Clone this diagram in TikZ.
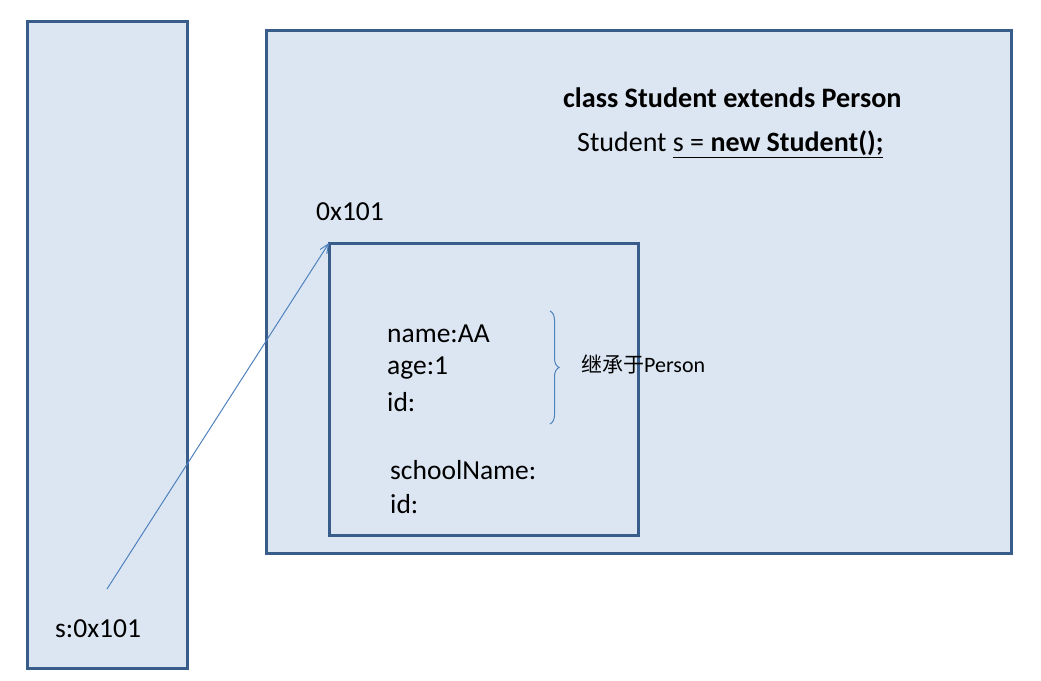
\documentclass[tikz,border=0pt]{standalone}
\usepackage{fontspec}
\setmainfont{Carlito}
\newfontfamily\cjk{Noto Sans CJK SC}
\usetikzlibrary{decorations.pathreplacing,arrows.meta}
\definecolor{boxline}{HTML}{385D8A}
\definecolor{boxfill}{HTML}{DCE6F2}
\definecolor{arrowc}{HTML}{4F81BD}
\tikzset{
  memb/.style={draw=boxline,fill=boxfill,line width=3pt},
  txt/.style={anchor=west,inner sep=0pt,font=\fontsize{27.5}{32}\selectfont},
}
\begin{document}
\begin{tikzpicture}[x=1pt,y=-1pt]
\useasboundingbox (0,0) rectangle (1041,680);
\draw[memb] (27,21) rectangle (187,668);
\draw[memb] (266,30) rectangle (1011,553);
\draw[memb] (329,243) rectangle (638,535);
\coordinate (objtl) at (329,243);
\coordinate (sref) at (107,589);
\draw[arrowc,line width=1pt,-{Straight Barb[length=9pt,width=8pt]}] (sref) -- (objtl);
\node[txt,font=\bfseries\fontsize{28.2}{32}\selectfont] (cls) at (563,98) {class Student extends Person};
\node[txt,font=\fontsize{28}{32}\selectfont] (decl) at (577,144) {Student \underline{s = \textbf{new Student();}}};
\node[txt] (addr) at (316,212) {0x101};
\node[txt] (n1) at (387,334) {name:AA};
\node[txt] (n2) at (387,368) {age:1};
\node[txt] (n3) at (387,402) {id:};
\node[txt] (n4) at (390,470) {schoolName:};
\node[txt] (n5) at (390,504) {id:};
\node[txt] (sv) at (55,629) {s:0x101};
\draw[arrowc,line width=1pt,decorate,decoration={brace,amplitude=9pt,raise=0pt}] (550,311) -- (550,424);
\node[anchor=west,inner sep=0pt] (inh) at (581,364) {{\cjk\fontsize{21}{24}\selectfont 继承于}{\fontsize{22}{24}\selectfont Person}};
\end{tikzpicture}
\end{document}
